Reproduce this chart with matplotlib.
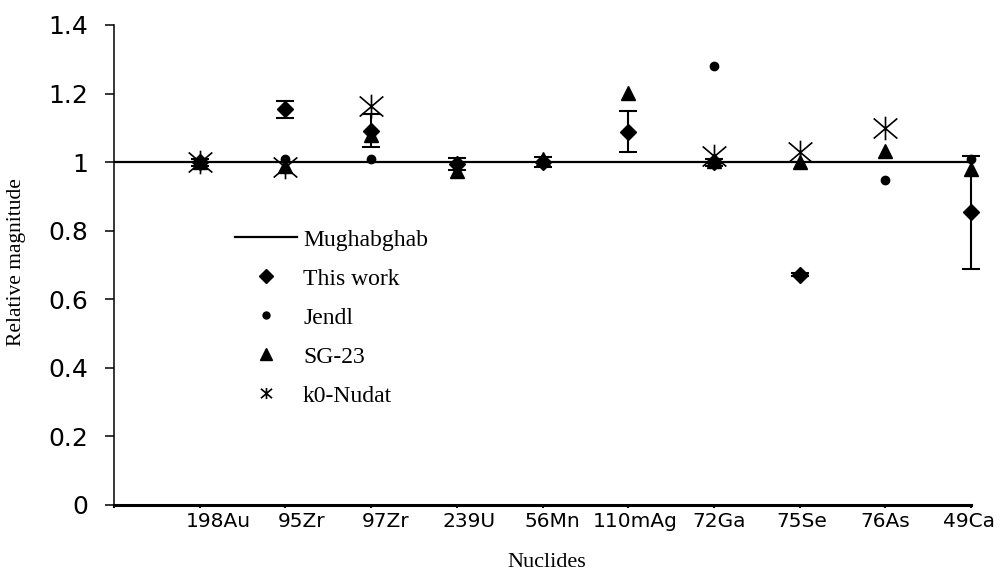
import numpy as np
import matplotlib
matplotlib.use('Agg')
import matplotlib.pyplot as plt
from matplotlib.path import Path
from matplotlib.transforms import ScaledTranslation

nan = np.nan

# ---- data ----
categories = ['', '198Au', '95Zr', '97Zr', '239U', '56Mn', '110mAg', '72Ga', '75Se', '76As', '49Ca']
mughabghab = [1.0, 1.0, 1.0, 1.0, 1.0, 1.0, 1.0, 1.0, 1.0, 1.0, 1.0]
this_work = [nan, 1.0, 1.154, 1.091, 0.995, 1.0, 1.089, 1.0, 0.672, nan, 0.854]
this_work_err = [nan, 0.01, 0.024, 0.048, 0.018, 0.015, 0.06, 0.01, 0.005, nan, 0.165]
jendl = [nan, 1.0, 1.009, 1.009, 0.994, 1.0, nan, 1.279, nan, 0.948, 1.009]
sg23 = [nan, 1.0, 0.99, 1.078, 0.975, 1.009, 1.202, 1.004, 0.999, 1.033, 0.98]
k0_nudat = [nan, 1.0, 0.985, 1.163, nan, nan, nan, 1.017, 1.031, 1.10, nan]
yticks = [0, 0.2, 0.4, 0.6, 0.8, 1.0, 1.2, 1.4]

x = np.arange(len(categories))

fig = plt.figure(figsize=(10, 5.72), dpi=100)
ax = fig.add_axes([0.114, 67/572, 0.857, 480/572])

# star marker (X plus vertical bar) like spreadsheet "star"
star = Path([(-1, -0.85), (1, 0.85), (-1, 0.85), (1, -0.85), (0, -1), (0, 1)],
            [Path.MOVETO, Path.LINETO, Path.MOVETO, Path.LINETO, Path.MOVETO, Path.LINETO])

ax.plot(x, mughabghab, color='black', lw=1.6, label='Mughabghab', zorder=2)

tw = np.array(this_work); te = np.array(this_work_err)
m = ~np.isnan(tw)
ax.errorbar(x[m], tw[m], yerr=te[m], fmt='none', ecolor='black', elinewidth=1.5,
            capsize=6.5, capthick=1.5, zorder=3, clip_on=False)
l_tw, = ax.plot(x, this_work, ls='none', marker='D', ms=8, color='black',
                label='This work', zorder=4, clip_on=False)
l_j, = ax.plot(x, jendl, ls='none', marker='o', ms=6, color='black',
               label='Jendl', zorder=5, clip_on=False)
l_sg, = ax.plot(x, sg23, ls='none', marker='^', ms=10.5, color='black',
                label='SG-23', zorder=6, clip_on=False)
l_k0, = ax.plot(x, k0_nudat, ls='none', marker=star, ms=17, mfc='none', mec='black',
                mew=1.2, label='k0-Nudat', zorder=7, clip_on=False)

ax.set_xlim(0, 10)
ax.set_ylim(0, 1.4)

for s in ['top', 'right']:
    ax.spines[s].set_visible(False)
ax.spines['bottom'].set_linewidth(2.2)
ax.spines['left'].set_linewidth(1.1)

ax.set_yticks(yticks)
ax.set_yticklabels(['%g' % v for v in yticks])
ax.tick_params(axis='y', direction='out', length=6.5, width=1.1, pad=12,
               labelsize=18)
for t in ax.get_yticklabels():
    t.set_fontfamily('DejaVu Sans')

ax.set_xticks(x)
ax.set_xticklabels(categories)
ax.tick_params(axis='x', direction='out', length=2, width=1.5, pad=3, labelsize=14.5)
for i, t in enumerate(ax.get_xticklabels()):
    t.set_fontfamily('DejaVu Sans')
    dx = (19 - 2.35 * (i - 1)) / 100.0
    t.set_transform(t.get_transform() + ScaledTranslation(dx, 0, fig.dpi_scale_trans))

ax.set_xlabel('Nuclides', fontfamily='Liberation Serif', fontsize=16, labelpad=12)
ax.xaxis.set_label_coords((547 - 114) / 857, -(553 - 505) / 480 + 0.0)
ax.xaxis.label.set_va('top')
ax.set_ylabel('Relative magnitude', fontfamily='Liberation Serif', fontsize=15.5)
ax.yaxis.set_label_coords((26 - 114) / 857, (505 - 262) / 480)

leg = ax.legend(handles=[ax.lines[0], l_tw, l_j, l_sg, l_k0],
                loc='upper left', bbox_to_anchor=(0.235, 1 - 229/572),
                bbox_transform=fig.transFigure, frameon=False,
                prop={'family': 'Liberation Serif', 'size': 17},
                handlelength=2.63, handletextpad=0.25, labelspacing=0.74,
                borderpad=0, borderaxespad=0)
hs = leg.legend_handles
hs[1].set_markersize(7)
hs[2].set_markersize(5)
hs[3].set_markersize(9)
hs[4].set_markersize(8)

fig.savefig('out.png', dpi=100)
